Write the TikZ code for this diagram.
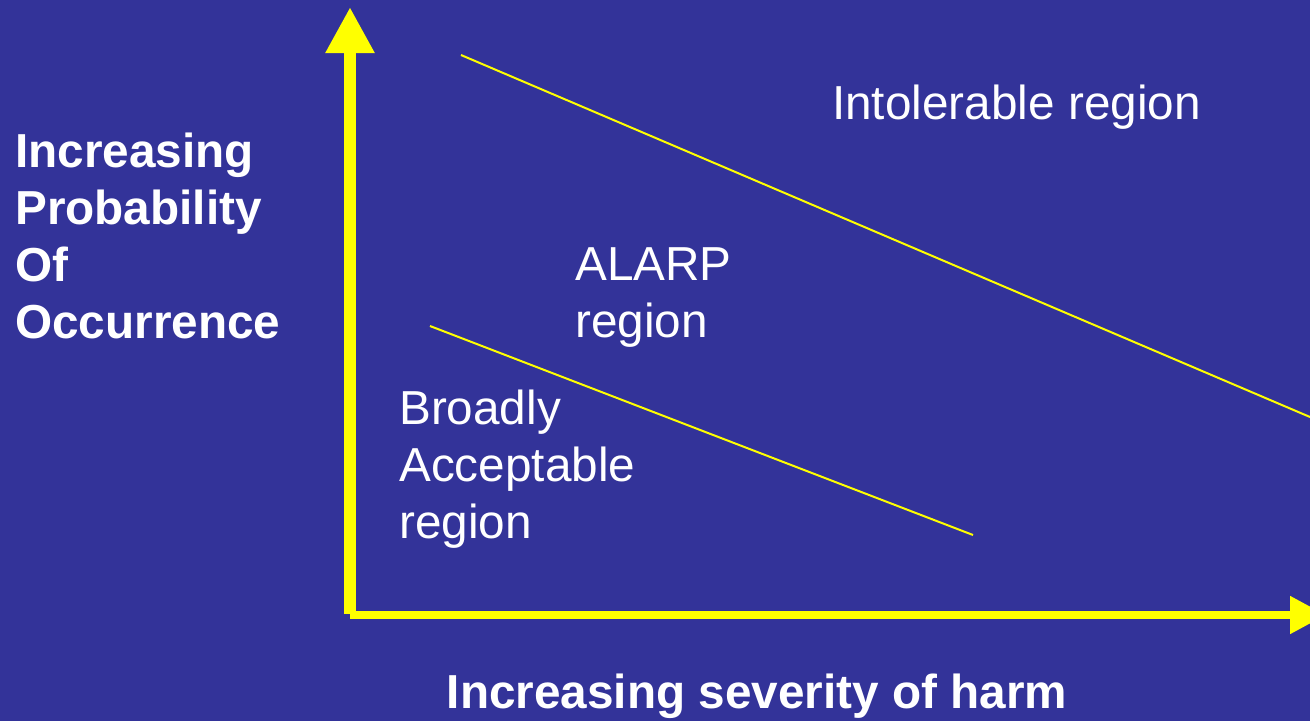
\documentclass[tikz,border=0pt]{standalone}
\usepackage{fontspec}
\setmainfont{Liberation Sans}
\usetikzlibrary{arrows.meta}
\definecolor{bg}{RGB}{51,51,153}
\definecolor{yel}{RGB}{255,255,0}
\tikzset{
  lbl/.style={text=white, inner sep=0pt, anchor=base west, align=left, font=\fontsize{47.7}{57}\selectfont},
  axlbl/.style={text=white, inner sep=0pt, anchor=base west, align=left, font=\fontsize{47.7}{57}\selectfont\bfseries},
  border/.style={yel, line width=2pt},
}
\begin{document}
\begin{tikzpicture}[x=1pt,y=-1pt]
\useasboundingbox (0,0) rectangle (1310,721);
\fill[bg] (0,0) rectangle (1310,721);
\clip (0,0) rectangle (1310,721);
\coordinate (origin) at (350,614);
\coordinate (ytip) at (350,7);
\coordinate (xstart) at (350,615);
\coordinate (xtip) at (1326,615);
\draw[yel, line width=12pt, -{Triangle[length=46pt,width=46pt]}] (origin) -- (ytip);
\draw[yel, line width=8pt, -{Triangle[length=36pt,width=36pt]}] (xstart) -- (xtip);
\coordinate (u1) at (461,55);
\coordinate (u2) at (1310,417);
\coordinate (l1) at (430,326);
\coordinate (l2) at (973,535);
\draw[border] (u1) -- (u2);
\draw[border] (l1) -- (l2);
\node[axlbl] (ylabel) at (15,338) {Increasing\\Probability\\Of\\Occurrence};
\node[axlbl, anchor=base] (xlabel) at (757,708) {Increasing severity of harm};
\node[lbl] (intol) at (832,119) {Intolerable region};
\node[lbl] (alarp) at (575,337) {ALARP\\region};
\node[lbl] (broad) at (399,538) {Broadly\\Acceptable\\region};
\end{tikzpicture}
\end{document}
